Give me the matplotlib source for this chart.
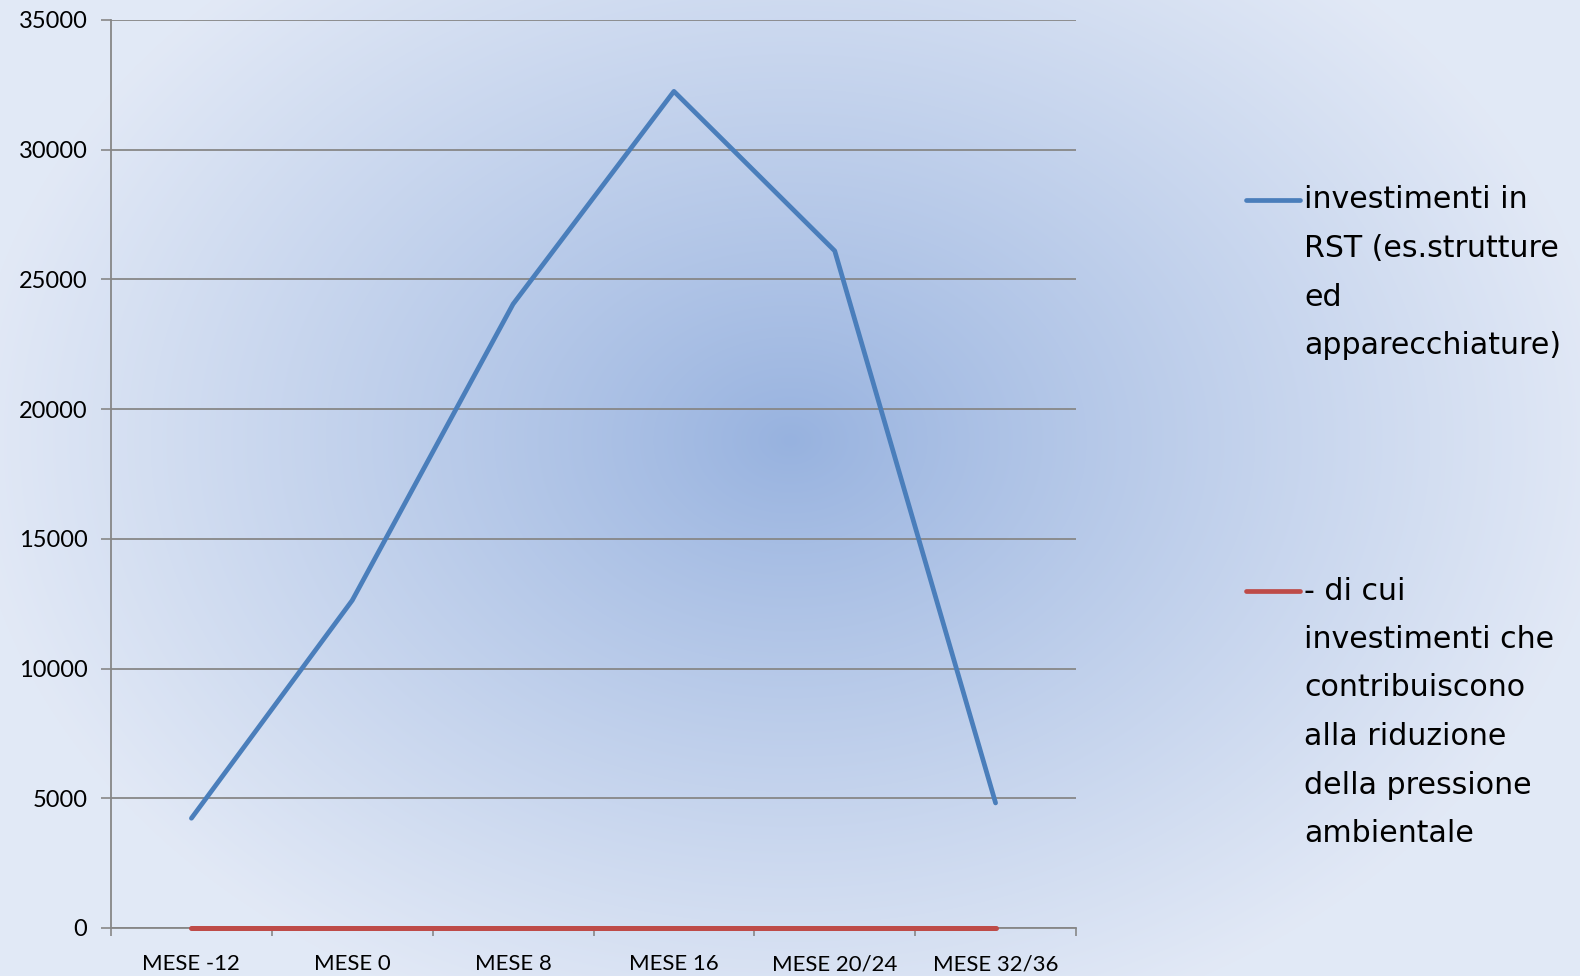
import numpy as np
import matplotlib
matplotlib.use("Agg")
import matplotlib.pyplot as plt
from matplotlib.lines import Line2D

# ---------------------------
# data
# ---------------------------
categories = ["MESE -12", "MESE 0", "MESE 8", "MESE 16", "MESE 20/24", "MESE 32/36"]
investimenti_rst = [4230, 12630, 24050, 32250, 26100, 4820]
investimenti_ambiente = [0, 0, 0, 0, 0, 0]
y_ticks = [0, 5000, 10000, 15000, 20000, 25000, 30000, 35000]

label_rst = ["investimenti in", "RST (es.strutture", "ed", "apparecchiature)"]
label_amb = ["- di cui", "investimenti che", "contribuiscono", "alla riduzione",
             "della pressione", "ambientale"]

blue = "#4a7ebb"
red = "#be4b48"
grid_grey = "#878787"

plt.rcParams['font.family'] = ['Lato', 'DejaVu Sans']

W, H = 1580, 976
fig = plt.figure(figsize=(W / 100, H / 100), dpi=100)

# ---------------------------
# radial gradient background
# ---------------------------
bg = fig.add_axes([0, 0, 1, 1], zorder=-5)
yy, xx = np.mgrid[0:H, 0:W]
cx, cy = 790, 440
d = np.sqrt(((xx - cx) / 820.0) ** 2 + ((yy - cy) / 620.0) ** 2)
d = np.clip(d, 0, 1) ** 0.9
c_in = np.array([151, 178, 223]) / 255.0
c_out = np.array([226, 233, 246]) / 255.0
img = c_in[None, None, :] * (1 - d[..., None]) + c_out[None, None, :] * d[..., None]
bg.imshow(img, aspect="auto", interpolation="bilinear")
bg.axis("off")

# ---------------------------
# main axes
# ---------------------------
ax = fig.add_axes([111 / W, 1 - 928 / H, (1076 - 111) / W, (928 - 20) / H])
ax.set_facecolor("none")

x = np.arange(len(categories))
ax.plot(x, investimenti_rst, color=blue, lw=3.4, solid_capstyle="round", zorder=3)
ax.plot(x, investimenti_ambiente, color=red, lw=3.6, solid_capstyle="round",
        zorder=3, clip_on=False)

ax.set_xlim(-0.5, len(categories) - 0.5)
ax.set_ylim(0, 35000)

ax.set_yticks(y_ticks)
ax.set_yticklabels([str(v) for v in y_ticks], fontsize=17)
ax.tick_params(axis="y", length=7, width=1.2, color=grid_grey, pad=10)
ax.yaxis.grid(True, color=grid_grey, lw=1.3)
ax.set_axisbelow(True)

ax.set_xticks(np.arange(-0.5, len(categories), 1.0))
ax.set_xticklabels([])
ax.set_xticks(x, minor=True)
ax.set_xticklabels(categories, minor=True, fontsize=16)
ax.tick_params(axis="x", which="major", length=6, width=1.2, color=grid_grey)
ax.tick_params(axis="x", which="minor", length=0, pad=19)

for s in ["top", "right"]:
    ax.spines[s].set_visible(False)
for s in ["left", "bottom"]:
    ax.spines[s].set_color(grid_grey)
    ax.spines[s].set_linewidth(1.3)

# ---------------------------
# legend (drawn by hand so the handle sits on the first line)
# ---------------------------
def legend_entry(lines, y0, color):
    fig.add_artist(Line2D([1246 / W, 1300 / W], [1 - y0 / H, 1 - y0 / H],
                          color=color, lw=3.4, solid_capstyle="round"))
    for i, t in enumerate(lines):
        fig.text(1304 / W, 1 - (y0 + i * 48.5) / H, t, fontsize=21.6,
                 family=["DejaVu Sans"], ha="left", va="center")

legend_entry(label_rst, 200, blue)
legend_entry(label_amb, 591, red)

fig.savefig("out.png", dpi=100)
